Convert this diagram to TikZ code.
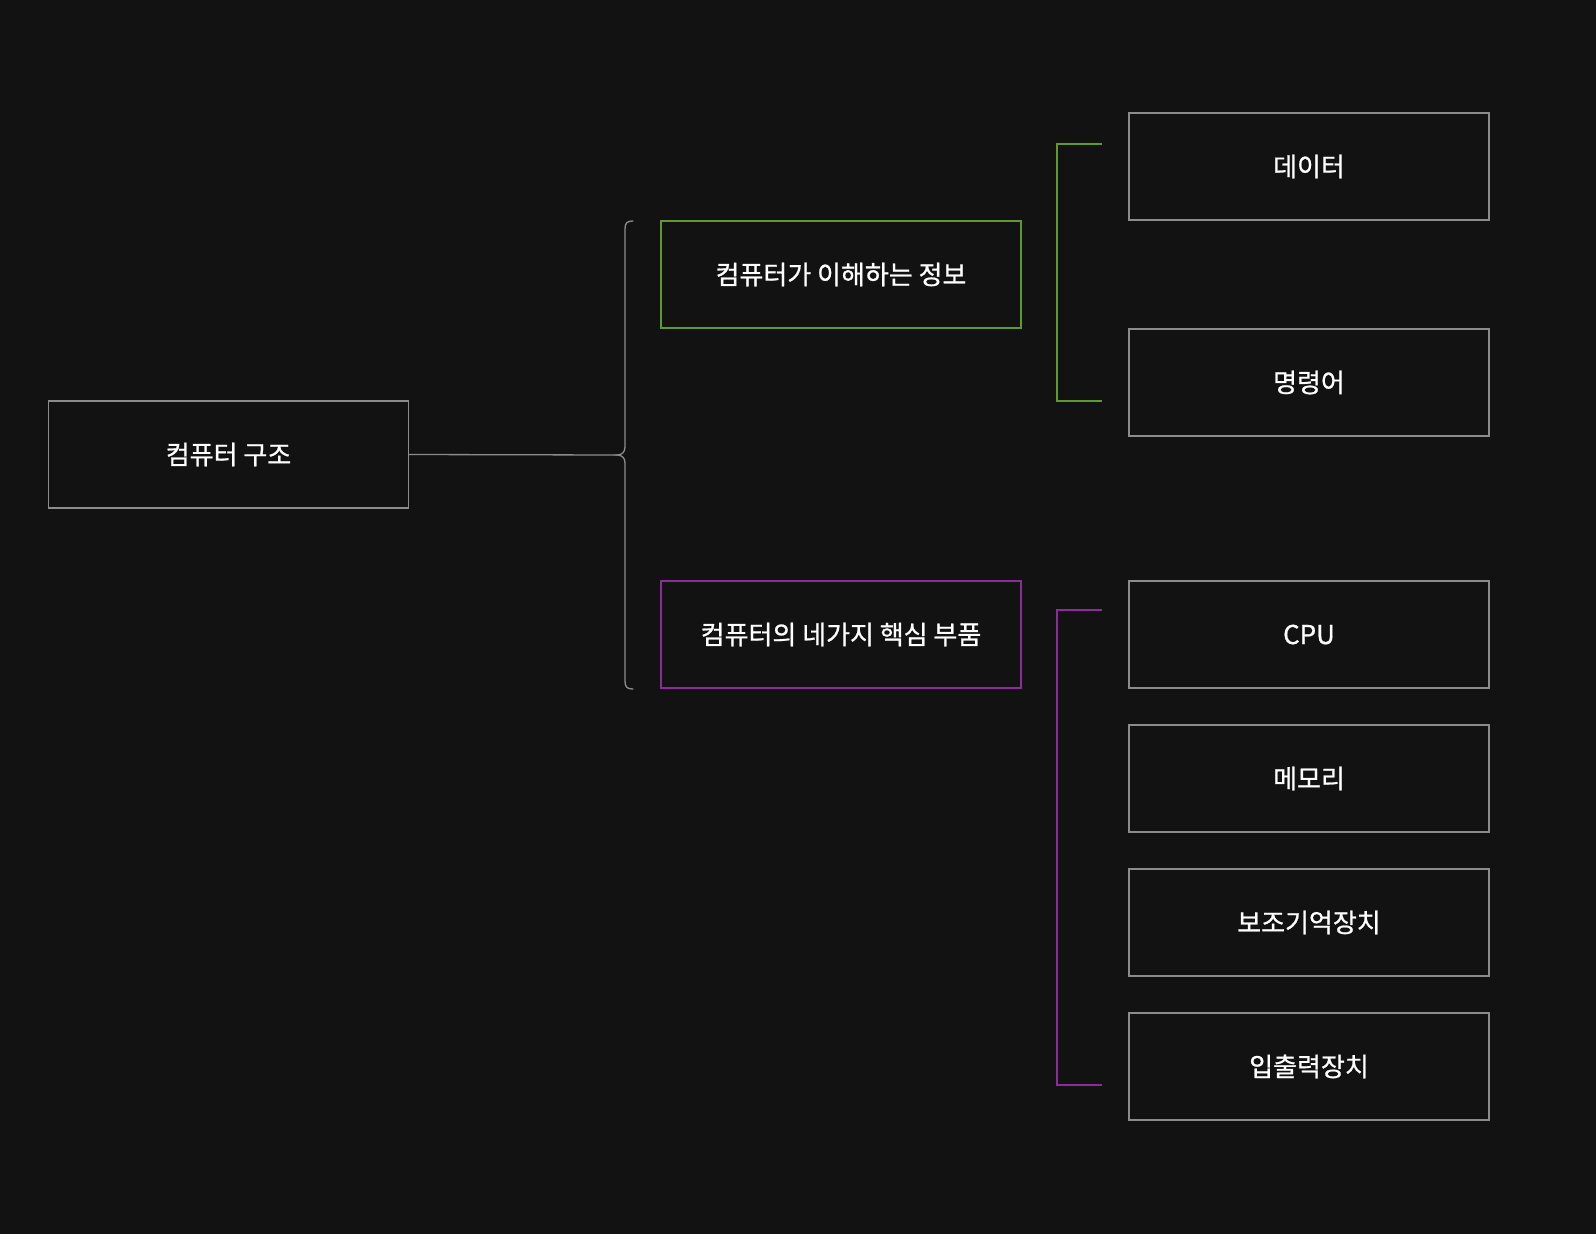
\documentclass[tikz,border=0pt]{standalone}
\usepackage{fontspec}
\setmainfont[FakeBold=0.8]{Noto Sans CJK KR}
\begin{document}
\begin{tikzpicture}[x=1pt,y=-1pt,
  box/.style={draw=boxgray, line width=1.3pt, minimum width=360pt, minimum height=107pt, inner sep=0pt, text=white, font=\fontsize{26}{31}\selectfont},
  link/.style={draw=boxgray, line width=1.3pt},
  ]
\definecolor{bg}{HTML}{121212}
\definecolor{boxgray}{HTML}{8C8C8C}
\definecolor{grn}{HTML}{5E9A2C}
\definecolor{prp}{HTML}{8E2A9E}
\fill[bg] (0,0) rectangle (1596,1234);
\useasboundingbox (0,0) rectangle (1596,1234);

\node[box] (root) at (228.5,454.5) {컴퓨터 구조};
\node[box, draw=grn] (info) at (841,274.5) {컴퓨터가 이해하는 정보};
\node[box, draw=prp] (parts) at (841,634.5) {컴퓨터의 네가지 핵심 부품};

\node[box] (data) at (1309,166.5) {데이터};
\node[box] (inst) at (1309,382.5) {명령어};
\node[box] (cpu) at (1309,634.5) {CPU};
\node[box] (mem) at (1309,778.5) {메모리};
\node[box] (aux) at (1309,922.5) {보조기억장치};
\node[box] (io) at (1309,1066.5) {입출력장치};

% brace
\coordinate (tip) at (617,455);
\draw[link] (root.east) -- (tip);
\draw[link, line cap=round] (633,221) .. controls (627,221) and (625,223) .. (625,229)
  -- (625,447) .. controls (625,452) and (622,455) .. (tip)
  .. controls (622,455) and (625,458) .. (625,463)
  -- (625,681) .. controls (625,687) and (627,689) .. (633,689);

% green bracket
\coordinate (g1) at (1102,144);
\coordinate (g2) at (1102,401);
\draw[draw=grn, line width=1.3pt] (g1) -- (1057,144) -- (1057,401) -- (g2);

% purple bracket
\coordinate (p1) at (1102,610);
\coordinate (p2) at (1102,1085);
\draw[draw=prp, line width=1.3pt] (p1) -- (1057,610) -- (1057,1085) -- (p2);
\end{tikzpicture}
\end{document}
